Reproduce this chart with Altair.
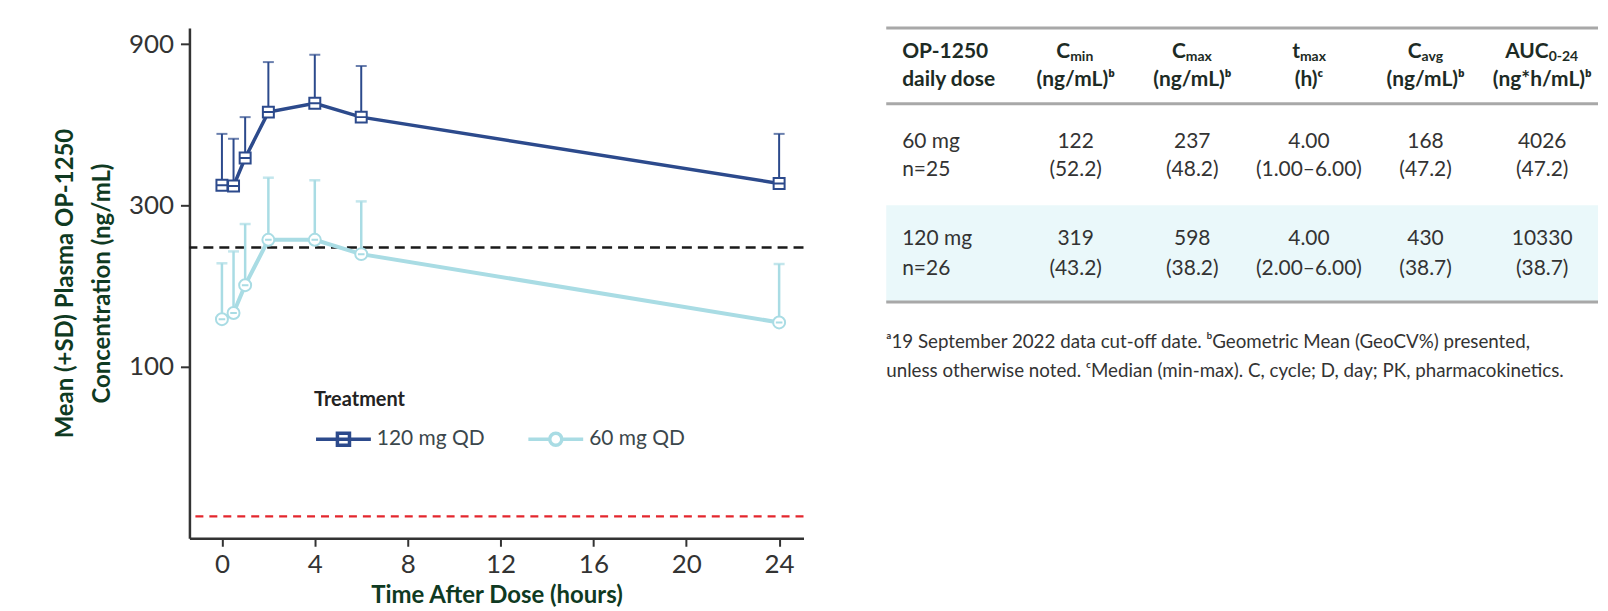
import altair as alt
import pandas as pd

# ---------------- data ----------------
times = [0, 0.5, 1, 2, 4, 6, 24]
series = ["120 mg QD", "60 mg QD"]
mean_120 = [344, 342, 414, 566, 601, 547, 348]
sd_top_120 = [488, 472, 547, 796, 837, 775, 488]
mean_60 = [138, 144, 174, 237, 237, 215, 135]
sd_top_60 = [202, 219, 264, 362, 356, 308, 201]
x_ticks = [0, 4, 8, 12, 16, 20, 24]
y_ticks = [100, 300, 900]
target_conc = [225]
lloq_conc = [36]

tbl_header_col0 = ["OP-1250", "daily dose"]
tbl_param = ["C", "C", "t", "C", "AUC"]
tbl_param_sub = ["min", "max", "max", "avg", "0-24"]
tbl_units = ["(ng/mL)ᵇ", "(ng/mL)ᵇ", "(h)ᶜ", "(ng/mL)ᵇ", "(ng*h/mL)ᵇ"]
tbl_dose = ["60 mg", "120 mg"]
tbl_n = ["n=25", "n=26"]
tbl_values = [["122", "237", "4.00", "168", "4026"],
              ["319", "598", "4.00", "430", "10330"]]
tbl_spread = [["(52.2)", "(48.2)", "(1.00–6.00)", "(47.2)", "(47.2)"],
              ["(43.2)", "(38.2)", "(2.00–6.00)", "(38.7)", "(38.7)"]]
footnotes = ["ᵃ19 September 2022 data cut-off date. ᵇGeometric Mean (GeoCV%) presented,",
             "unless otherwise noted. ᶜMedian (min-max). C, cycle; D, day; PK, pharmacokinetics."]

# ---------------- styles ----------------
FONT = "Lato"
C120 = "#2c4a8c"
C60 = "#a9dce4"
colors = [C120, C60]
GREEN = "#0f3a22"
AXC = "#333333"
PW, PH = 616, 512

SQ = "M-1,-1H1V1H-1ZM-1,0H1"
CI = "M-1,0A1,1 0 1,1 1,0A1,1 0 1,1 -1,0ZM-0.55,0H0.55"
LEG_SQ = "M-1,0H1M-0.22,-0.22H0.22V0.22H-0.22Z"
LEG_CI = "M-1,0H-0.22M0.22,0H1M-0.22,0A0.22,0.22 0 1,1 0.22,0A0.22,0.22 0 1,1 -0.22,0Z"

xscale = alt.Scale(domain=[-1.4, 25.05], nice=False, zero=False)
yscale = alt.Scale(type="log", domain=[31, 1005], nice=False)

xaxis = alt.Axis(values=x_ticks, title="Time After Dose (hours)", grid=False,
                 labelFont=FONT, labelFontSize=26, labelColor=AXC, labelPadding=5,
                 tickSize=8, tickWidth=2, tickColor=AXC, domainColor=AXC, domainWidth=2.5,
                 titleFont=FONT, titleFontSize=24, titleFontWeight="bold",
                 titleColor=GREEN, titlePadding=6)
yaxis = alt.Axis(values=y_ticks, format="d",
                 title=["Mean (+SD) Plasma OP-1250", "Concentration (ng/mL)"],
                 grid=False, labelFont=FONT, labelFontSize=26, labelColor=AXC,
                 labelPadding=7, tickSize=9, tickWidth=2, tickColor=AXC,
                 domainColor=AXC, domainWidth=2.5, titleFont=FONT, titleFontSize=24,
                 titleFontWeight="bold", titleColor=GREEN, titlePadding=14,
                 titleLineHeight=37)


def X(f):
    return alt.X(f + ":Q", scale=xscale, axis=xaxis)


def Y(f):
    return alt.Y(f + ":Q", scale=yscale, axis=yaxis)


rows = []
for s, m, t in zip(series, [mean_120, mean_60], [sd_top_120, sd_top_60]):
    for tt, mm, tp in zip(times, m, t):
        rows.append(dict(series=s, time=tt, mean=mm, top=tp))
df = pd.DataFrame(rows)

ref_black = alt.Chart(pd.DataFrame({"v": target_conc})).mark_rule(
    color="#1a1a1a", strokeWidth=2.5, strokeDash=[10, 6]).encode(y=Y("v"))
ref_red = alt.Chart(pd.DataFrame({"v": lloq_conc})).mark_rule(
    color="#e3262d", strokeWidth=2.3, strokeDash=[8, 6]).encode(y=Y("v"))


def series_layers(name, color, shape, size, lw, ew):
    base = alt.Chart(df).transform_filter(alt.datum.series == name)
    err = base.mark_rule(color=color, strokeWidth=ew).encode(x=X("time"), y=Y("mean"), y2="top:Q")
    cap = base.mark_tick(color=color, orient="horizontal", size=11, thickness=ew).encode(
        x=X("time"), y=Y("top"))
    line = base.mark_line(color=color, strokeWidth=lw).encode(x=X("time"), y=Y("mean"))
    pts = base.mark_point(shape=shape, size=size, filled=True, fill="white", stroke=color,
                          strokeWidth=2, opacity=1).encode(x=X("time"), y=Y("mean"))
    return [err, cap, line, pts]


LEG = alt.Legend(title="Treatment", orient="none", legendX=125, legendY=363,
                 direction="horizontal", symbolSize=3025, symbolStrokeWidth=3.5,
                 symbolOpacity=1, labelFont=FONT, labelFontSize=21, labelColor="#3b474c",
                 labelOffset=4, columnPadding=36, titleFont=FONT, titleFontSize=20,
                 titleFontWeight="bold", titleColor="#222222", titlePadding=0, padding=0)

legend_layer = alt.Chart(df).mark_point(opacity=0, filled=False, strokeWidth=3.5).encode(
    x=X("time"), y=Y("mean"),
    color=alt.Color("series:N", scale=alt.Scale(domain=series, range=colors), legend=LEG),
    shape=alt.Shape("series:N", scale=alt.Scale(domain=series, range=[LEG_SQ, LEG_CI]), legend=LEG),
)

plot = alt.layer(
    ref_black, ref_red,
    *series_layers("60 mg QD", C60, CI, 144, 4, 2.5),
    *series_layers("120 mg QD", C120, SQ, 121, 3.5, 2),
    legend_layer,
).properties(width=PW, height=PH)

# ---------------- table ----------------
TW, TH = 714, 360
STEP = 117.0
COL0_PX = 73.0
tx = alt.Scale(domain=[-COL0_PX / STEP, (TW - COL0_PX) / STEP], nice=False, zero=False)
ty = alt.Scale(domain=[0, TH], reverse=True, nice=False, zero=False)
T_RULES = [0, 76, 275]
T_BAND = [178, 275]
T_HDR = [24, 52]
T_ROW = [[114, 143], [212, 242]]
T_FOOT = [315, 344]
COL0_DX = -57
SUB_ANCHOR = [-5.5, -6.5, -9, -4, 6.5]
HDR_C = "#1d2b25"
BODY_C = "#333333"


def TXc():
    return alt.X("col:Q", scale=tx, axis=None)


def TYc():
    return alt.Y("y:Q", scale=ty, axis=None)


band = alt.Chart(pd.DataFrame({"y": [T_BAND[0]], "y2": [T_BAND[1]]})).mark_rect(
    color="#eaf8fa").encode(x=alt.value(0), x2=alt.value(TW), y=TYc(), y2="y2:Q")
rules = alt.Chart(pd.DataFrame({"y": T_RULES})).mark_rule(
    color="#a8a8a8", strokeWidth=3).encode(x=alt.value(0), x2=alt.value(TW), y=TYc())

hdr0 = alt.Chart(pd.DataFrame({"col": [0, 0], "y": T_HDR, "t": tbl_header_col0})).mark_text(
    align="left", baseline="middle", dx=COL0_DX, font=FONT, fontSize=21, fontWeight="bold",
    color=HDR_C).encode(x=TXc(), y=TYc(), text="t:N")

hdr_layers = []
for k, (b, s, u) in enumerate(zip(tbl_param, tbl_param_sub, tbl_units)):
    d1 = pd.DataFrame({"col": [k + 1], "y": [T_HDR[0]], "t": [b]})
    d2 = pd.DataFrame({"col": [k + 1], "y": [T_HDR[0]], "t": [s]})
    d3 = pd.DataFrame({"col": [k + 1], "y": [T_HDR[1]], "t": [u]})
    hdr_layers.append(alt.Chart(d1).mark_text(
        align="right", baseline="middle", dx=SUB_ANCHOR[k], font=FONT, fontSize=21,
        fontWeight="bold", color=HDR_C).encode(x=TXc(), y=TYc(), text="t:N"))
    hdr_layers.append(alt.Chart(d2).mark_text(
        align="left", baseline="middle", dx=SUB_ANCHOR[k], dy=5, font=FONT, fontSize=14,
        fontWeight="bold", color=HDR_C).encode(x=TXc(), y=TYc(), text="t:N"))
    hdr_layers.append(alt.Chart(d3).mark_text(
        align="center", baseline="middle", font=FONT, fontSize=21, fontWeight="bold",
        color=HDR_C).encode(x=TXc(), y=TYc(), text="t:N"))

brow = []
bval = []
for r in range(len(tbl_dose)):
    brow.append(dict(col=0, y=T_ROW[r][0], t=tbl_dose[r]))
    brow.append(dict(col=0, y=T_ROW[r][1], t=tbl_n[r]))
    for k in range(5):
        bval.append(dict(col=k + 1, y=T_ROW[r][0], t=tbl_values[r][k]))
        bval.append(dict(col=k + 1, y=T_ROW[r][1], t=tbl_spread[r][k]))

body0 = alt.Chart(pd.DataFrame(brow)).mark_text(
    align="left", baseline="middle", dx=COL0_DX, font=FONT, fontSize=21, color=BODY_C).encode(
    x=TXc(), y=TYc(), text="t:N")
bodyv = alt.Chart(pd.DataFrame(bval)).mark_text(
    align="center", baseline="middle", font=FONT, fontSize=21, color=BODY_C).encode(
    x=TXc(), y=TYc(), text="t:N")
foot = alt.Chart(pd.DataFrame({"y": T_FOOT, "t": footnotes})).mark_text(
    align="left", baseline="middle", font=FONT, fontSize=18.8, color=BODY_C).encode(
    x=alt.value(0), y=TYc(), text="t:N")

table = alt.layer(band, rules, hdr0, *hdr_layers, body0, bodyv, foot).properties(width=TW, height=TH)

chart = alt.hconcat(plot, table, spacing=79).properties(
    padding={"left": 45, "top": 17, "right": 0, "bottom": 0}
).configure_view(stroke=None)

chart.save("out.html", embed_options={"renderer": "svg", "actions": False})
